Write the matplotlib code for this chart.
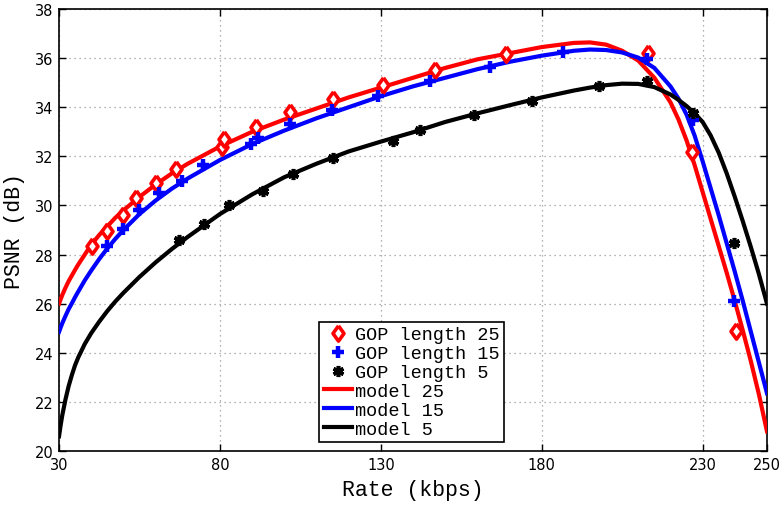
import numpy as np
import matplotlib
matplotlib.use("Agg")
import matplotlib.pyplot as plt

# measured points (rate in kbps, PSNR in dB)
rate_25 = [40.3, 44.9, 49.9, 53.9, 60.1, 66.4, 80.6, 81.4, 91.2, 101.8, 115.1,
           130.7, 146.8, 168.9, 213.0, 226.7, 240.4]
psnr_25 = [28.35, 28.96, 29.6, 30.3, 30.9, 31.5, 32.4, 32.7, 33.2, 33.8, 34.35,
           34.9, 35.5, 36.15, 36.2, 32.16, 24.87]

rate_15 = [44.9, 49.9, 54.9, 61.1, 68.2, 74.7, 89.8, 91.9, 101.8, 114.8, 129.1,
           145.3, 163.9, 186.6, 212.7, 227.0, 239.8]
psnr_15 = [28.35, 29.04, 29.8, 30.5, 31.0, 31.65, 32.5, 32.73, 33.3, 33.9, 34.45,
           35.07, 35.64, 36.25, 35.96, 33.5, 26.1]

rate_5 = [67.3, 75.1, 82.8, 93.4, 102.7, 115.1, 133.8, 142.2, 159.0, 177.0,
          197.8, 212.7, 227.0, 239.8]
psnr_5 = [28.6, 29.24, 30.0, 30.6, 31.28, 31.93, 32.62, 33.07, 33.68, 34.25,
          34.86, 35.07, 33.76, 28.47]

# fitted model curves
model_rate = [30, 30.5, 31, 32, 33, 34, 35, 36, 38, 40, 42.5, 45, 47.5, 50, 55,
              60, 65, 70, 80, 90, 100, 110, 120, 130, 140, 150, 160, 170, 180,
              190, 195, 200, 205, 210, 215, 220, 222.5, 225, 227.5, 230, 232.5,
              235, 237.5, 240, 242.5, 245, 247.5, 250]
model_25 = [26.0, 26.18, 26.35, 26.65, 26.92, 27.15, 27.38, 27.6, 28.0, 28.4,
            28.8, 29.15, 29.5, 29.8, 30.35, 30.85, 31.3, 31.7, 32.4, 33.0, 33.5,
            33.95, 34.4, 34.8, 35.2, 35.6, 35.95, 36.2, 36.45, 36.62, 36.64,
            36.55, 36.3, 35.9, 35.2, 34.2, 33.5, 32.65, 31.65, 30.55, 29.45,
            28.35, 27.25, 26.1, 24.9, 23.65, 22.3, 20.8]
model_15 = [24.85, 25.03, 25.2, 25.5, 25.78, 26.02, 26.27, 26.5, 26.95, 27.35,
            27.82, 28.25, 28.64, 29.0, 29.65, 30.2, 30.68, 31.1, 31.85, 32.5,
            33.05, 33.55, 34.0, 34.45, 34.85, 35.2, 35.55, 35.85, 36.1, 36.3,
            36.35, 36.33, 36.23, 36.02, 35.6, 34.85, 34.35, 33.7, 32.85, 31.8,
            30.7, 29.6, 28.45, 27.3, 26.1, 24.85, 23.6, 22.35]
model_5 = [20.6, 21.05, 21.45, 22.1, 22.65, 23.1, 23.5, 23.82, 24.36, 24.8,
           25.27, 25.7, 26.09, 26.44, 27.09, 27.68, 28.22, 28.72, 29.65, 30.45,
           31.15, 31.7, 32.2, 32.6, 32.98, 33.4, 33.75, 34.08, 34.4, 34.68,
           34.8, 34.9, 34.96, 34.95, 34.82, 34.52, 34.3, 34.05, 33.75, 33.4,
           32.85, 32.15, 31.3, 30.35, 29.35, 28.3, 27.2, 26.0]

xticks = [30, 80, 130, 180, 230, 250]
yticks = [20, 22, 24, 26, 28, 30, 32, 34, 36, 38]

mono = "Liberation Mono"
diamond = [(0, 1), (0.72, 0), (0, -1), (-0.72, 0), (0, 1)]
asterisk = (6, 2, 0)

fig = plt.figure(figsize=(7.84, 5.06), dpi=100)
ax = fig.add_axes([0.0753, 0.1067, 0.903, 0.8735])

ax.plot(rate_25, psnr_25, linestyle="none", marker=diamond, ms=11, mew=2.6,
        mec="red", mfc="white", zorder=4, label="GOP length 25")
ax.plot(rate_15, psnr_15, linestyle="none", marker="+", ms=8, mew=3.2,
        color="blue", zorder=4, label="GOP length 15")
ax.plot(rate_5, psnr_5, linestyle="none", marker=asterisk, ms=8, mew=2.6,
        color="black", zorder=4, label="GOP length 5")

ax.plot(model_rate, model_25, color="red", lw=3, zorder=3, label="model 25")
ax.plot(model_rate, model_15, color="blue", lw=3, zorder=3, label="model 15")
ax.plot(model_rate, model_5, color="black", lw=3, zorder=3, label="model 5")

ax.set_xlim(30, 250)
ax.set_ylim(20, 38)
ax.set_xticks(xticks)
ax.set_yticks(yticks)
ax.tick_params(direction="in", top=True, right=True, length=5, width=1,
               labelsize=10.5, pad=4)
for lab in ax.get_xticklabels() + ax.get_yticklabels():
    lab.set_family("DejaVu Sans")
ax.grid(True, linestyle=(0, (1, 3)), color="#999999", linewidth=0.9)
ax.set_axisbelow(True)
for sp in ax.spines.values():
    sp.set_linewidth(1.2)

ax.set_xlabel("Rate (kbps)", family=mono, fontsize=15.5, labelpad=5)
ax.set_ylabel("PSNR (dB)", family=mono, fontsize=15.5, labelpad=7)

leg = ax.legend(loc="lower center", bbox_to_anchor=(0.498, 0.02),
                prop={"family": mono, "size": 13.3}, fancybox=False,
                framealpha=1, edgecolor="black", handlelength=1.5,
                handletextpad=0.15, labelspacing=0.1, borderpad=0.25,
                borderaxespad=0)
leg.get_frame().set_linewidth(1.2)

fig.savefig("out.png", dpi=100)
